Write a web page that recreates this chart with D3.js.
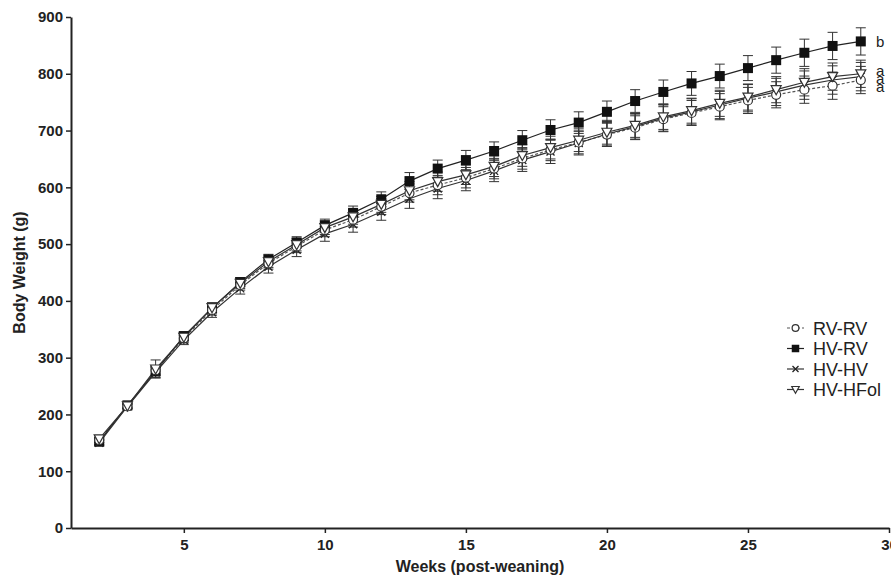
<!DOCTYPE html>
<html>
<head>
<meta charset="utf-8">
<script src="https://cdn.jsdelivr.net/npm/d3@7"></script>
<style>
  body { margin: 0; background: #fff; }
  svg { display: block; font-family: "Liberation Sans", Arial, sans-serif; }
</style>
</head>
<body>
<div id="chart"></div>
<script>
// weeks post-weaning
const weeks = [2, 3, 4, 5, 6, 7, 8, 9, 10, 11, 12, 13, 14, 15, 16, 17, 18, 19, 20, 21, 22, 23, 24, 25, 26, 27, 28, 29];

// mean body weight (g)
const rvrv   = [155, 214, 278, 334, 384, 428, 466, 496, 525, 543, 566, 590, 604, 617, 633, 651, 666, 679, 693, 705, 720, 731, 742, 753, 763, 772, 779, 789];
const hvrv   = [152, 216, 276, 338, 387, 433, 473, 503, 533, 555, 579, 611, 633, 648, 664, 683, 701, 714, 733, 752, 768, 783, 796, 810, 824, 837, 849, 857];
const hvhv   = [150, 214, 274, 331, 380, 422, 460, 490, 518, 535, 557, 580, 598, 612, 629, 648, 663, 678, 694, 707, 722, 733, 745, 757, 768, 780, 789, 795];
const hvhfol = [157, 215, 280, 336, 388, 431, 469, 499, 529, 548, 570, 594, 610, 622, 637, 656, 670, 683, 697, 709, 724, 735, 748, 759, 772, 785, 795, 800];

// SEM
const rvrvErr   = [5, 4, 7, 8, 9, 9, 10, 11, 12, 13, 14, 16, 17, 18, 18, 19, 19, 20, 20, 21, 22, 22, 23, 23, 23, 24, 24, 24];
const hvrvErr   = [5, 4, 8, 7, 8, 8, 9, 10, 11, 12, 13, 15, 15, 17, 16, 17, 18, 19, 19, 20, 21, 21, 21, 22, 23, 24, 24, 24];
const hvhvErr   = [5, 4, 9, 8, 9, 10, 11, 12, 13, 14, 15, 17, 18, 18, 19, 20, 21, 21, 22, 22, 23, 23, 24, 24, 24, 25, 25, 25];
const hvhfolErr = [6, 4, 16, 8, 9, 9, 10, 11, 12, 13, 14, 16, 17, 17, 18, 19, 20, 20, 21, 21, 22, 22, 23, 23, 23, 24, 24, 24];

const seriesNames = ["RV-RV", "HV-RV", "HV-HV", "HV-HFol"];
const seriesMarks = ["circle", "square", "cross", "triangle"];
const statLetters = ["a", "b", "a", "a"];

const yTicks = [0, 100, 200, 300, 400, 500, 600, 700, 800, 900];
const xTicks = [5, 10, 15, 20, 25, 30];

const W = 891, H = 581;
const svg = d3.select("#chart").append("svg")
    .attr("width", W)
    .attr("height", H);

const x = d3.scaleLinear().domain([1, 30]).range([71, 889]);
const y = d3.scaleLinear().domain([0, 900]).range([528, 17]);

const series = [
    { name: seriesNames[0], vals: rvrv,   err: rvrvErr,   mark: seriesMarks[0], dash: "3,2", stroke: "#555" },
    { name: seriesNames[1], vals: hvrv,   err: hvrvErr,   mark: seriesMarks[1], dash: null,  stroke: "#222" },
    { name: seriesNames[2], vals: hvhv,   err: hvhvErr,   mark: seriesMarks[2], dash: null,  stroke: "#333" },
    { name: seriesNames[3], vals: hvhfol, err: hvhfolErr, mark: seriesMarks[3], dash: null,  stroke: "#333" }
];

// axes
const yAxis = svg.append("g")
    .attr("transform", `translate(${x(1)},0)`)
    .call(d3.axisLeft(y).tickValues(yTicks).tickSize(5).tickSizeOuter(0).tickPadding(3));
const xAxis = svg.append("g")
    .attr("transform", `translate(0,${y(0)})`)
    .call(d3.axisBottom(x).tickValues(xTicks).tickSize(5).tickSizeOuter(0).tickPadding(6));

[yAxis, xAxis].forEach(a => {
    a.select(".domain").attr("stroke", "#222").attr("stroke-width", 2);
    a.selectAll(".tick line").attr("stroke", "#222").attr("stroke-width", 1.5);
    a.selectAll(".tick text")
        .attr("fill", "#222")
        .style("font-size", "15px")
        .style("font-weight", "bold");
});

// axis titles
svg.append("text")
    .attr("transform", `translate(25,${(y(0) + y(900)) / 2}) rotate(-90)`)
    .attr("text-anchor", "middle")
    .style("font-size", "16px")
    .style("font-weight", "bold")
    .attr("fill", "#222")
    .text("Body Weight (g)");
svg.append("text")
    .attr("x", 480)
    .attr("y", 572)
    .attr("text-anchor", "middle")
    .style("font-size", "16px")
    .style("font-weight", "bold")
    .attr("fill", "#222")
    .text("Weeks (post-weaning)");

// marker drawing
function drawMark(g, type, s) {
    s = s || 1;
    if (type === "circle") {
        g.append("circle").attr("r", 4.5 * s).attr("fill", "#fff").attr("stroke", "#333").attr("stroke-width", 1.2);
    } else if (type === "square") {
        g.append("rect").attr("x", -5 * s).attr("y", -5 * s).attr("width", 10 * s).attr("height", 10 * s).attr("fill", "#111");
    } else if (type === "cross") {
        g.append("path").attr("d", `M${-4 * s},${-4 * s}L${4 * s},${4 * s}M${-4 * s},${4 * s}L${4 * s},${-4 * s}`)
            .attr("stroke", "#222").attr("stroke-width", 1.3);
    } else {
        g.append("path").attr("d", `M${-5 * s},${-4 * s}L${5 * s},${-4 * s}L0,${5 * s}Z`)
            .attr("fill", "#fff").attr("stroke", "#333").attr("stroke-width", 1.2);
    }
}

const line = d3.line().x((d, i) => x(weeks[i])).y(d => y(d));

// error bars first
series.forEach(s => {
    const eb = svg.append("g").attr("stroke", "#333").attr("stroke-width", 1);
    s.vals.forEach((v, i) => {
        const cx = x(weeks[i]);
        eb.append("line").attr("x1", cx).attr("x2", cx).attr("y1", y(v - s.err[i])).attr("y2", y(v + s.err[i]));
        eb.append("line").attr("x1", cx - 5).attr("x2", cx + 5).attr("y1", y(v + s.err[i])).attr("y2", y(v + s.err[i]));
        eb.append("line").attr("x1", cx - 5).attr("x2", cx + 5).attr("y1", y(v - s.err[i])).attr("y2", y(v - s.err[i]));
    });
});

// lines and markers
series.forEach(s => {
    svg.append("path")
        .datum(s.vals)
        .attr("fill", "none")
        .attr("stroke", s.stroke)
        .attr("stroke-width", 1.2)
        .attr("stroke-dasharray", s.dash)
        .attr("d", line);
});
[1, 2, 0, 3].forEach(k => {
    const s = series[k];
    s.vals.forEach((v, i) => {
        const g = svg.append("g").attr("transform", `translate(${x(weeks[i])},${y(v)})`);
        drawMark(g, s.mark);
    });
});

// significance letters
const letterY = [87, 42, 79, 71];
statLetters.forEach((t, k) => {
    svg.append("text")
        .attr("x", 876)
        .attr("y", letterY[k] + 5)
        .style("font-size", "15px")
        .attr("fill", "#222")
        .text(t);
});

// legend
const legend = svg.append("g").attr("transform", "translate(787,328)");
series.forEach((s, k) => {
    const row = legend.append("g").attr("transform", `translate(0,${k * 20.5})`);
    row.append("line").attr("x1", 0).attr("x2", 17).attr("y1", 0).attr("y2", 0)
        .attr("stroke", s.stroke).attr("stroke-width", 1.2).attr("stroke-dasharray", s.dash);
    const m = row.append("g").attr("transform", "translate(8.5,0)");
    drawMark(m, s.mark, 0.75);
    row.append("text")
        .attr("x", 26)
        .attr("y", 6.5)
        .style("font-size", "18px")
        .attr("fill", "#222")
        .text(s.name);
});
</script>
</body>
</html>
